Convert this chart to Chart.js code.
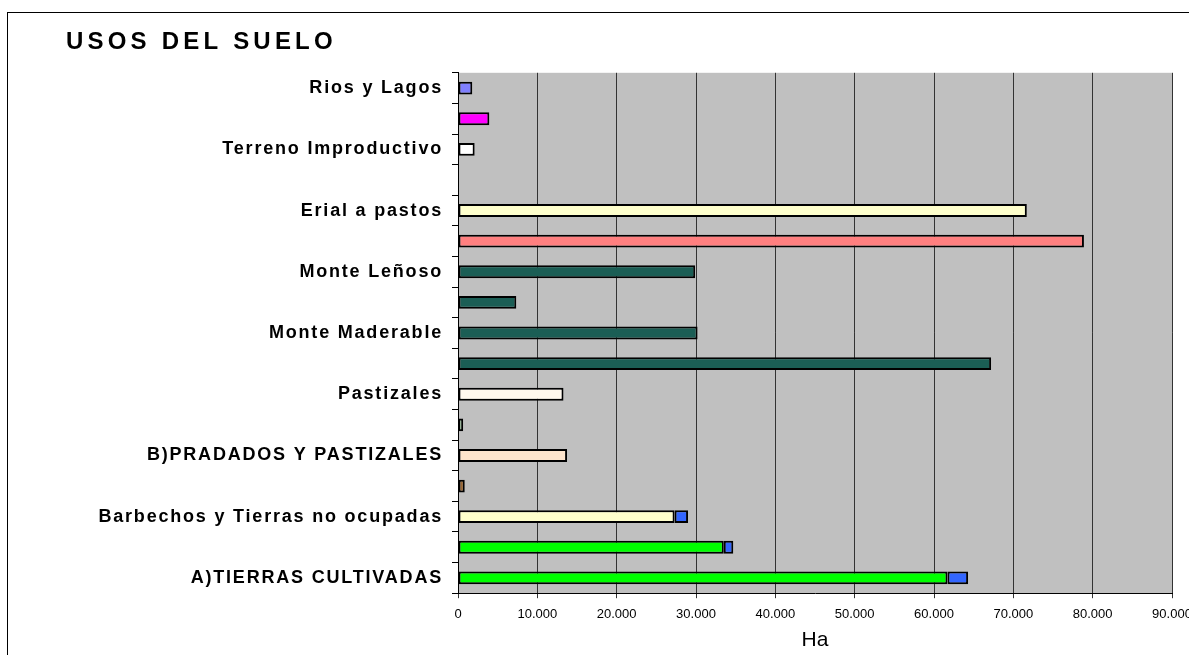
<!DOCTYPE html>
<html>
<head>
<meta charset="utf-8">
<script src="https://cdn.jsdelivr.net/npm/chart.js@4"></script>
<style>
  html, body { margin:0; padding:0; background:#fff; overflow:hidden; }
  #frame { position:absolute; left:7px; top:12px; width:1400px; height:800px; border:1px solid #000; }
  #wrap { position:absolute; left:0; top:0; width:1189px; height:655px; }
</style>
</head>
<body>
<div id="frame"></div>
<div id="wrap"><canvas id="usosChart"></canvas></div>
<script>
// categorias de arriba a abajo (Excel solo rotula una de cada dos)
const categorias = ['Rios y Lagos', '', 'Terreno Improductivo', '', 'Erial a pastos', '',
  'Monte Leñoso', '', 'Monte Maderable', '', 'Pastizales', '', 'B)PRADADOS Y PASTIZALES', '',
  'Barbechos y Tierras no ocupadas', '', 'A)TIERRAS CULTIVADAS'];
// hectareas (serie principal)
const superficie = [1800, 3950, 2100, null, 71700, 78900, 29900, 7350, 30200, 67200,
  13300, 650, 13750, 850, 27300, 33500, 61700];
// hectareas (segunda serie, en azul)
const superficieExtra = [null, null, null, null, null, null, null, null, null, null,
  null, null, null, null, 1700, 1200, 2600];
const coloresBarra = ['#8080ff', '#ff00ff', '#ffffff', '#ffffff', '#ffffcc', '#ff8080',
  '#1b5e55', '#1b5e55', '#1b5e55', '#1b5e55', '#fff8ee', '#ccffcc', '#fde4cc', '#996633',
  '#ffffcc', '#00ff00', '#00ff00'];
const ticksX = [0, 10000, 20000, 30000, 40000, 50000, 60000, 70000, 80000, 90000];

const fmtMiles = v => v === 0 ? '0' : String(v).replace(/\B(?=(\d{3})+(?!\d))/g, '.');

const fondoGris = {
  id: 'fondoGris',
  beforeDraw(chart) {
    const a = chart.chartArea, c = chart.ctx;
    c.save(); c.fillStyle = '#c0c0c0';
    c.fillRect(a.left, a.top, a.right - a.left, a.bottom - a.top);
    c.restore();
    // espaciado de letras como en Excel
    const conEspaciado = (obj, fn, esp) => {
      if (!obj || obj['_esp_' + fn]) return;
      const orig = obj[fn];
      obj[fn] = function (...args) {
        const ctx = chart.ctx; ctx.save(); ctx.letterSpacing = esp;
        orig.apply(this, args); ctx.restore();
      };
      obj['_esp_' + fn] = true;
    };
    conEspaciado(chart.scales.y, 'drawLabels', '1.8px');
    conEspaciado(chart.titleBlock, 'draw', '4.2px');
  }
};

new Chart(document.getElementById('usosChart'), {
  type: 'bar',
  data: {
    labels: categorias,
    datasets: [
      { data: superficie, backgroundColor: coloresBarra, borderColor: '#000', borderWidth: 2,
        borderSkipped: false, barPercentage: 0.42, categoryPercentage: 1 },
      { data: superficieExtra, backgroundColor: '#3366ff', borderColor: '#000', borderWidth: 2,
        borderSkipped: false, barPercentage: 0.42, categoryPercentage: 1 }
    ]
  },
  plugins: [fondoGris],
  options: {
    indexAxis: 'y',
    responsive: true,
    maintainAspectRatio: false,
    animation: false,
    layout: { padding: { left: 66, top: 28, right: 17, bottom: 2 } },
    plugins: {
      legend: { display: false },
      tooltip: { enabled: false },
      title: { display: true, text: 'USOS DEL SUELO', align: 'start', color: '#000',
        font: { family: 'Arial, Liberation Sans', size: 24, weight: 'bold' }, padding: { top: 0, bottom: 16 } }
    },
    scales: {
      x: {
        stacked: true, min: 0, max: 90000,
        afterBuildTicks(scale) { scale.ticks = ticksX.map(v => ({ value: v })); },
        afterFit(scale) { scale.paddingRight = 0; scale.paddingLeft = 0; scale.height -= 8; },
        grid: { color: '#333', lineWidth: 1, tickLength: 5, drawTicks: true },
        border: { display: true, color: '#000', width: 1 },
        ticks: { color: '#000', padding: 8, maxRotation: 0, autoSkip: false,
          font: { family: 'Arial, Liberation Sans', size: 13 }, callback: v => fmtMiles(v) },
        title: { display: true, text: 'Ha', color: '#000', padding: { top: 6, bottom: 0 },
          font: { family: 'Arial, Liberation Sans', size: 21 } }
      },
      y: {
        stacked: true,
        afterFit(scale) { scale.width = 392; },
        grid: { drawOnChartArea: false, drawTicks: true, tickLength: 6, color: '#000', offset: true },
        border: { display: true, color: '#000', width: 1 },
        ticks: { color: '#000', autoSkip: false, padding: 9,
          font: { family: 'Arial, Liberation Sans', size: 18, weight: 'bold' } }
      }
    }
  }
});
</script>
</body>
</html>
